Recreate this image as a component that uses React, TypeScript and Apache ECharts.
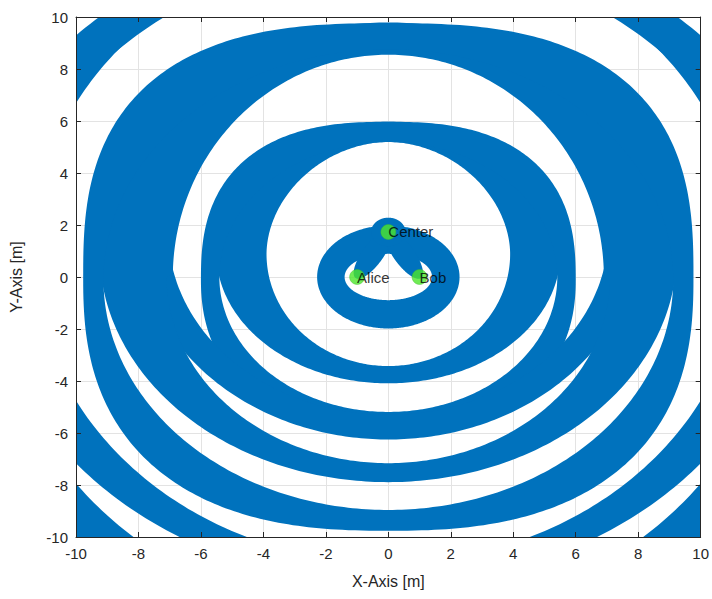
import React, { useEffect, useRef } from "react";
import * as echarts from "echarts";

// Marked positions
const POINT_NAMES = ["Alice", "Bob", "Center"];
const POINT_X = [-1, 1, 0];
const POINT_Y = [0, 0, 1.732];

// Filled bands, each between an inner and an outer closed curve (metres, read
// from the figure). Every curve is made of an upper and a lower half
// (super)ellipse around (cx, cy): semi-axes and squareness per half; tilt in degrees.
// A band whose inner semi-axes are 0 is filled.
const BAND_NAMES = ["P0", "armAC", "armBC", "cap", "Q1", "P1", "R1", "Q2", "P2", "Q3", "P3"];
const BAND_TILT = [0, 60, -60, 0, 0, 0, 0, 0, 0, 0, 0];
const BAND_CX = [0, -0.5, 0.5, 0, 0, 0, 0, 0, 0, 0, 0];

const IN_CY = [0, 0.866, 0.866, 1.732, 0.885, 0, 1.75, 0, -0.1, 0.965, -0.4];
const IN_RX_TOP = [1.4, 0, 0, 0, 3.9, 5.41, 7.05, 6.9, 9.12, 11.39, 12.4];
const IN_RY_TOP = [0.89, 0, 0, 0, 4.31, 5.19, 7.05, 8.55, 8.86, 11.95, 12.75];
const IN_N_TOP = [2, 2, 2, 2, 1.9, 2, 2, 2, 2, 2, 2];
const IN_RX_BOTTOM = [1.4, 0, 0, 0, 3.9, 5.41, 7.05, 7.1, 9.12, 11.39, 12.4];
const IN_RY_BOTTOM = [0.89, 0, 0, 0, 4.31, 5.19, 7.05, 7.16, 8.86, 11.95, 12.75];
const IN_N_BOTTOM = [2, 2, 2, 2, 2, 2, 2, 2, 2, 2, 2];

const OUT_CY = [0, 0.866, 0.866, 1.732, 0.94, -0.12, 1.75, 0.95, 0, 0.95, -0.4];
const OUT_RX_TOP = [2.28, 1.06, 1.06, 0.55, 5.51, 6.0, 8.0, 9.24, 9.77, 12.94, 13.95];
const OUT_RY_TOP = [1.98, 0.35, 0.35, 0.55, 5.03, 6.09, 8.0, 8.84, 9.76, 12.79, 13.9];
const OUT_N_TOP = [2, 2, 2, 2, 2, 2.55, 2, 2, 2.7, 2, 2];
const OUT_RX_BOTTOM = [2.28, 1.06, 1.06, 0.55, 5.51, 6.0, 8.0, 9.24, 9.77, 12.94, 13.95];
const OUT_RY_BOTTOM = [1.98, 0.35, 0.35, 0.55, 5.03, 6.09, 8.0, 8.84, 9.76, 12.79, 13.9];
const OUT_N_BOTTOM = [2, 2, 2, 2, 2, 2.2, 2, 2, 2.5, 2, 2];

const AXIS_MIN = -10;
const AXIS_MAX = 10;
const AXIS_STEP = 2;

const BLUE = "#0072BD";
const GREEN = "#4ce62a";
const FONT = "'Liberation Sans', Arial, Helvetica, sans-serif";

function spow(v: number, e: number) {
  return Math.sign(v) * Math.pow(Math.abs(v), e);
}

// curve = [cx, cy, rxTop, ryTop, nTop, rxBottom, ryBottom, nBottom, tilt]
function curvePath(api: any, curve: number[], reverse: boolean) {
  const [cx, cy, rxT, ryT, nT, rxB, ryB, nB, tiltDeg] = curve;
  if (rxT <= 0 || ryT <= 0) return "";
  const th = (tiltDeg * Math.PI) / 180;
  const N = 400;
  const parts: string[] = [];
  for (let k = 0; k <= N; k++) {
    const t = ((reverse ? -1 : 1) * 2 * Math.PI * k) / N;
    const c = Math.cos(t), s = Math.sin(t);
    const top = s >= 0;
    const n = top ? nT : nB;
    const ex = (top ? rxT : rxB) * spow(c, 2 / n);
    const ey = (top ? ryT : ryB) * spow(s, 2 / n);
    const p = api.coord([
      cx + ex * Math.cos(th) - ey * Math.sin(th),
      cy + ex * Math.sin(th) + ey * Math.cos(th),
    ]);
    parts.push((k === 0 ? "M" : "L") + p[0].toFixed(2) + " " + p[1].toFixed(2));
  }
  return parts.join("") + "Z";
}

export default function App() {
  const ref = useRef<HTMLDivElement>(null);
  useEffect(() => {
    if (!ref.current) return;
    const chart = echarts.init(ref.current, undefined, { renderer: "svg" });
    const axisText = { color: "#262626", fontSize: 15, fontFamily: FONT };
    const lineStyle = { color: "#262626", width: 1 };
    const baseAxis = {
      type: "value",
      min: AXIS_MIN,
      max: AXIS_MAX,
      interval: AXIS_STEP,
    };
    const frameAxis = (position: string) => ({
      ...baseAxis,
      position,
      axisLabel: { show: false },
      axisLine: { show: true, onZero: false, lineStyle },
      axisTick: { show: true, inside: true, length: 5, lineStyle },
      splitLine: { show: false },
      z: 10,
    });
    const bandRows = BAND_NAMES.map((_, i) => [
      BAND_CX[i], IN_CY[i], IN_RX_TOP[i], IN_RY_TOP[i], IN_N_TOP[i],
      IN_RX_BOTTOM[i], IN_RY_BOTTOM[i], IN_N_BOTTOM[i],
      OUT_CY[i], OUT_RX_TOP[i], OUT_RY_TOP[i], OUT_N_TOP[i],
      OUT_RX_BOTTOM[i], OUT_RY_BOTTOM[i], OUT_N_BOTTOM[i],
      BAND_TILT[i],
    ]);
    chart.setOption({
      animation: false,
      backgroundColor: "#ffffff",
      grid: { left: 76, right: 8, top: 17, bottom: 62, containLabel: false },
      xAxis: [
        {
          ...baseAxis,
          position: "bottom",
          name: "X-Axis [m]",
          nameLocation: "middle",
          nameGap: 36,
          nameTextStyle: { ...axisText, fontSize: 16 },
          axisLabel: { ...axisText, margin: 9 },
          axisLine: { show: false, onZero: false },
          axisTick: { show: false },
          splitLine: { show: true, lineStyle: { color: "#e3e3e3", width: 1 } },
          z: 0,
        },
        frameAxis("bottom"),
        frameAxis("top"),
      ],
      yAxis: [
        {
          ...baseAxis,
          position: "left",
          name: "Y-Axis [m]",
          nameLocation: "middle",
          nameGap: 52,
          nameRotate: 90,
          nameTextStyle: { ...axisText, fontSize: 16 },
          axisLabel: { ...axisText, margin: 8 },
          axisLine: { show: false, onZero: false },
          axisTick: { show: false },
          splitLine: { show: true, lineStyle: { color: "#e3e3e3", width: 1 } },
          z: 0,
        },
        frameAxis("left"),
        frameAxis("right"),
      ],
      series: [
        {
          type: "custom",
          xAxisIndex: 0,
          yAxisIndex: 0,
          clip: true,
          silent: true,
          z: 2,
          data: bandRows,
          encode: { x: 0, y: 1 },
          renderItem: (params: any, api: any) => {
            const v = (i: number) => api.value(i);
            const tilt = v(15);
            const inner = [v(0), v(1), v(2), v(3), v(4), v(5), v(6), v(7), tilt];
            const outer = [v(0), v(8), v(9), v(10), v(11), v(12), v(13), v(14), tilt];
            const d = curvePath(api, outer, false) + curvePath(api, inner, true);
            return {
              type: "path",
              shape: { pathData: d },
              style: { fill: BLUE, stroke: "none" },
            };
          },
        },
        {
          type: "scatter",
          xAxisIndex: 0,
          yAxisIndex: 0,
          z: 5,
          symbol: "circle",
          symbolSize: 15,
          itemStyle: { color: GREEN, borderColor: "#3cb82a", borderWidth: 0.5 },
          data: POINT_NAMES.map((n, i) => ({ name: n, value: [POINT_X[i], POINT_Y[i]] })),
          label: {
            show: true,
            formatter: (p: any) => p.name,
            position: ["50%", "50%"],
            align: "left",
            verticalAlign: "middle",
            color: "#000000",
            fontSize: 15,
            fontFamily: FONT,
          },
        },
      ],
    });
    return () => chart.dispose();
  }, []);
  return (
    <div
      ref={ref}
      style={{ position: "fixed", left: 0, top: 0, width: 712, height: 599 }}
    />
  );
}
